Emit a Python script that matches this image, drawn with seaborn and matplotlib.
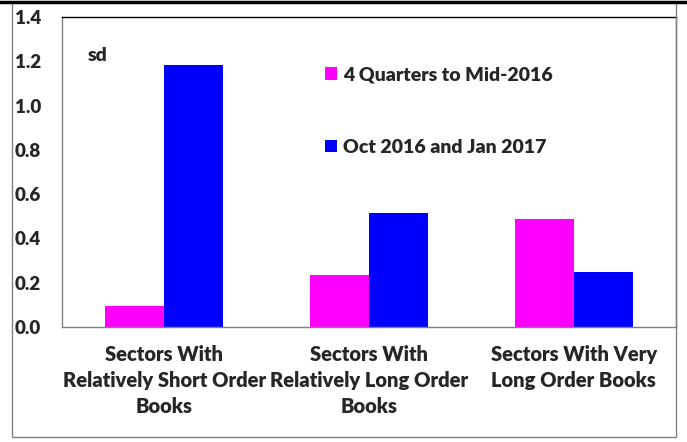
import pandas as pd
import numpy as np
import matplotlib
matplotlib.use('Agg')
import matplotlib.pyplot as plt
from matplotlib.patches import Rectangle
from matplotlib.lines import Line2D
import seaborn as sns

# Chart data
categories = ['Sectors With\nRelatively Short Order\nBooks',
              'Sectors With\nRelatively Long Order\nBooks',
              'Sectors With Very\nLong Order Books']
series_names = ['4 Quarters to Mid-2016', 'Oct 2016 and Jan 2017']
mid_2016 = [0.095, 0.235, 0.49]
oct_jan = [1.185, 0.515, 0.25]
y_ticks = [0.0, 0.2, 0.4, 0.6, 0.8, 1.0, 1.2, 1.4]

# Long-format table for seaborn
df = pd.DataFrame({
    'category': categories * 2,
    'series': [series_names[0]] * 3 + [series_names[1]] * 3,
    'value': mid_2016 + oct_jan,
})

sns.set_style('white')
plt.rcParams['font.family'] = ['Lato', 'DejaVu Sans']
W = 'heavy'

fig = plt.figure(figsize=(6.87, 4.42), dpi=100)
ax = fig.add_axes([62 / 687, 1 - 327 / 442, (676 - 62) / 687, (327 - 17) / 442])

sns.barplot(data=df, x='category', y='value', hue='series',
            palette=['#FF00FF', '#0000FF'], width=0.577, gap=0,
            saturation=1, ax=ax, linewidth=0)

ax.set_ylim(0, 1.4)
ax.set_yticks(y_ticks)
ax.set_yticklabels([f'{v:.1f}' for v in y_ticks], fontsize=13.5, fontweight=W)
ax.set_xlabel('')
ax.set_ylabel('')
ax.tick_params(axis='x', length=0, pad=13, labelsize=14.5)
ax.tick_params(axis='y', length=4, width=1, color='#808080', pad=11, direction='out')
for lbl in ax.get_xticklabels():
    lbl.set_fontweight(W)
    lbl.set_linespacing(1.45)

ax.spines['left'].set_color('#808080')
ax.spines['bottom'].set_color('#808080')
ax.spines['right'].set_color('#808080')
ax.spines['top'].set_color('black')
for s in ax.spines.values():
    s.set_linewidth(1)

ax.text(0.042, 0.877, 'sd', transform=ax.transAxes, fontsize=14,
        fontweight=W, va='center', ha='left')

handles, labels = ax.get_legend_handles_labels()
ax.legend(handles, labels, loc='upper left', bbox_to_anchor=(0.413, 0.872),
          frameon=False, handlelength=0.6, handleheight=0.6,
          handletextpad=0.3, labelspacing=2.85, borderpad=0,
          prop={'weight': W, 'size': 14})

# Outer frame of the chart
fig.patches.append(Rectangle((12 / 687, 1 - 437 / 442), (676 - 12) / 687, (437 - 2) / 442,
                             transform=fig.transFigure, fill=False,
                             edgecolor='#808080', linewidth=1))
fig.lines.append(Line2D([0, 1], [1 - 1.5 / 442, 1 - 1.5 / 442], transform=fig.transFigure,
                        color='black', linewidth=2.5))

fig.savefig('out.png', dpi=100)
